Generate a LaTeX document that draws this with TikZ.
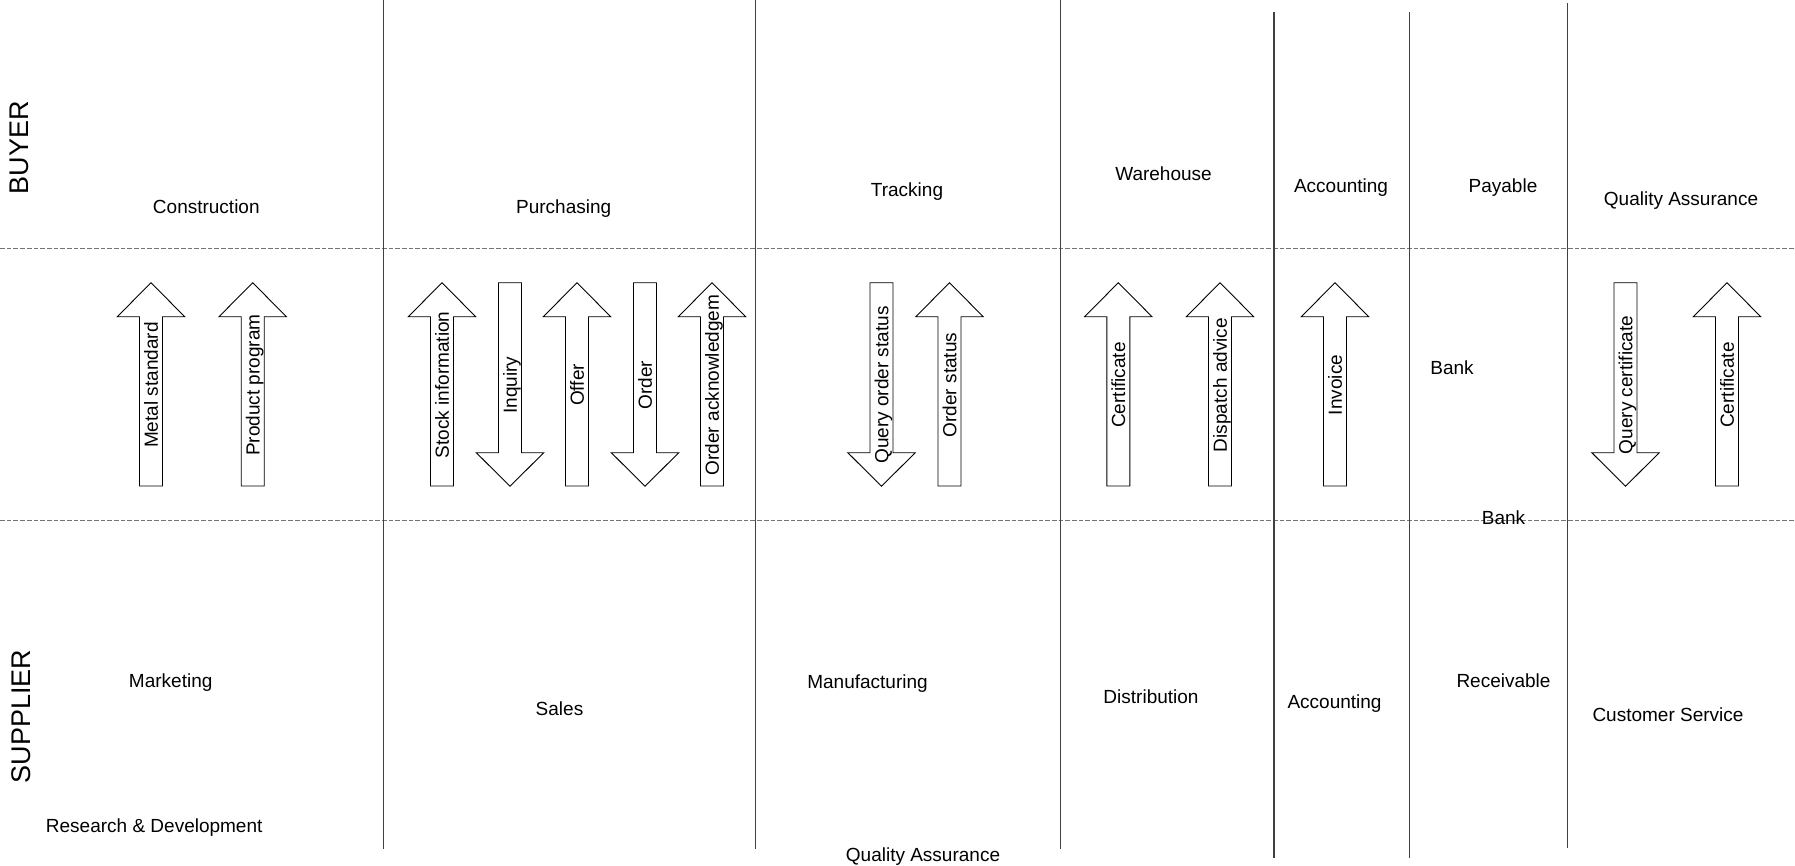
\documentclass[tikz,border=0pt]{standalone}
\usepackage{fontspec}
\setmainfont{Liberation Sans}
\begin{document}
\begin{tikzpicture}[x=1pt,y=-1pt,
  sep/.style={draw=black!75,line width=1.1pt},
  lane/.style={draw=black!55,line width=1pt,dash pattern=on 4.7pt off 2pt},
  arrowbox/.style={draw=black,line width=0.9pt,fill=white,line join=miter},
  lbl/.style={inner sep=0pt,font=\fontsize{19}{22}\selectfont,text height=13.7pt,text depth=0pt,anchor=center},
  albl/.style={lbl,rotate=90},
  side/.style={inner sep=0pt,font=\fontsize{27}{30}\selectfont,text height=19.4pt,text depth=0pt,rotate=90}]
\useasboundingbox (0,0) rectangle (1795,865);
\newcommand\UpArr[3]{%
  \draw[arrowbox] (#1-11.5,486) -- (#1-11.5,316.7) -- (#1-33.7,316.7) -- (#1,282.7)
     -- (#1+33.7,316.7) -- (#1+11.5,316.7) -- (#1+11.5,486) -- cycle;
  \node[albl] (#2) at (#1,385) {#3};}
\newcommand\DownArr[3]{%
  \draw[arrowbox] (#1-11.5,282.7) -- (#1-11.5,452.7) -- (#1-33.7,452.7) -- (#1,486.3)
     -- (#1+33.7,452.7) -- (#1+11.5,452.7) -- (#1+11.5,282.7) -- cycle;
  \node[albl] (#2) at (#1,385) {#3};}
% lane separators
\draw[lane] (0,248.5) -- (1795,248.5);
\draw[lane] (0,520) -- (1795,520);
% column separators
\draw[sep] (383.5,0) -- (383.5,849.3);
\draw[sep] (755.7,0) -- (755.7,848.5);
\draw[sep] (1060.5,0) -- (1060.5,849);
\draw[sep] (1274,12) -- (1274,858);
\draw[sep] (1409.5,12) -- (1409.5,858);
\draw[sep] (1567.5,3) -- (1567.5,848);
% side titles
\node[side] (buyer) at (18.3,147.5) {BUYER};
\node[side] (supplier) at (20.8,716.7) {SUPPLIER};
% buyer departments
\node[lbl] (construction) at (206.3,207) {Construction};
\node[lbl] (purchasing) at (563.7,207) {Purchasing};
\node[lbl] (tracking) at (907,189.5) {Tracking};
\node[lbl] (warehouse) at (1163.5,173.5) {Warehouse};
\node[lbl] (accB) at (1341,185.5) {Accounting};
\node[lbl] (payable) at (1503,185.5) {Payable};
\node[lbl] (qaB) at (1681,199) {Quality Assurance};
% middle
\node[lbl] (bank1) at (1452,368) {Bank};
\node[lbl] (bank2) at (1503.5,518) {Bank};
% supplier departments
\node[lbl] (marketing) at (170.7,681) {Marketing};
\node[lbl] (rnd) at (154.2,826) {Research \& Development};
\node[lbl] (sales) at (559.5,708.5) {Sales};
\node[lbl] (manuf) at (867.5,681.5) {Manufacturing};
\node[lbl] (qaS) at (923,854.3) {Quality Assurance};
\node[lbl] (distrib) at (1151,696.5) {Distribution};
\node[lbl] (accS) at (1334.5,702) {Accounting};
\node[lbl] (receivable) at (1503.5,681) {Receivable};
\node[lbl] (custserv) at (1668,715) {Customer Service};
% message arrows
\UpArr{151}{a1}{Metal standard}
\UpArr{252.7}{a2}{Product program}
\UpArr{442}{a3}{Stock information}
\DownArr{510}{a4}{Inquiry}
\UpArr{577}{a5}{Offer}
\DownArr{645}{a6}{Order}
\UpArr{712}{a7}{Order acknowledgem}
\DownArr{881.5}{a8}{Query order status}
\UpArr{949.5}{a9}{Order status}
\UpArr{1118.3}{a10}{Certificate}
\UpArr{1220}{a11}{Dispatch advice}
\UpArr{1335}{a12}{Invoice}
\DownArr{1625.5}{a13}{Query certificate}
\UpArr{1727}{a14}{Certificate}
\end{tikzpicture}
\end{document}
